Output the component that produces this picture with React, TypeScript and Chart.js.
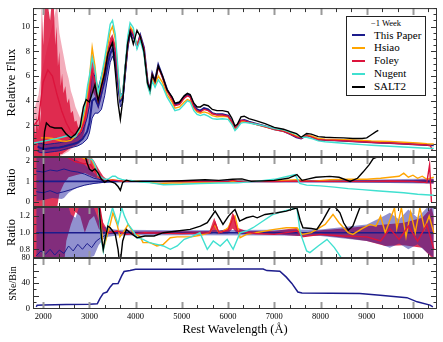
import React, { useEffect, useRef } from 'react';
import { Chart, registerables } from 'chart.js';

Chart.register(...registerables);

type P = [number, number];
type B = [number, number, number];

// ---------- tick labels / categories ----------
const WAVE_TICKS = [2000, 3000, 4000, 5000, 6000, 7000, 8000, 9000, 10000];
const FLUX_TICKS = [0, 2, 4, 6, 8, 10];
const RATIO_TICKS = [0, 1, 2];
const RATIO_ZOOM_TICKS = [0.8, 1.0, 1.2];
const SNE_TICKS = [0, 20, 40, 60, 80];
const SERIES_NAMES = ['This Paper', 'Hsiao', 'Foley', 'Nugent', 'SALT2'];
const LEGEND_TITLE = '\u22121 Week';

// ---------- panel 1: relative flux ----------
const THIS_PAPER_FLUX: P[] = [[1880,0.3],[1950,0.15],[2050,0.1],[2150,0.15],[2250,0.2],[2350,0.22],[2450,0.3],[2550,0.4],[2650,0.5],[2750,0.62],[2850,0.9],[2950,1.5],[3000,2.2],[3060,4.0],[3120,4.2],[3190,3.6],[3260,4.6],[3330,5.6],[3400,7.0],[3450,7.8],[3500,8.2],[3560,7.6],[3620,5.6],[3670,4.0],[3720,4.2],[3780,6.6],[3830,8.5],[3880,9.6],[3950,9.3],[4030,8.4],[4100,9.3],[4180,8.3],[4260,5.5],[4310,4.9],[4360,6.2],[4420,5.6],[4490,6.9],[4580,6.0],[4680,4.9],[4790,4.2],[4850,3.7],[4950,3.8],[5050,4.3],[5120,4.5],[5180,4.4],[5260,3.6],[5330,3.3],[5400,3.2],[5480,3.4],[5570,3.3],[5660,3.0],[5760,2.9],[5880,2.9],[6000,2.8],[6080,2.3],[6150,1.75],[6200,1.9],[6280,2.4],[6350,2.45],[6450,2.3],[6600,2.15],[6800,1.95],[7000,1.7],[7200,1.55],[7350,1.3],[7480,1.05],[7580,0.95],[7700,1.2],[7800,1.1],[7950,0.85],[8100,0.82],[8300,0.8],[8500,0.76],[8700,0.72],[8900,0.68],[9100,0.64],[9300,0.6],[9500,0.58],[9700,0.54],[9900,0.5],[10100,0.46],[10300,0.42],[10450,0.4]];
const THIS_PAPER_FLUX_BAND: B[] = [[1880,-0.1,0.6],[1950,-0.2,0.55],[2050,-0.2,0.45],[2150,-0.15,0.5],[2250,-0.1,0.55],[2350,-0.05,0.6],[2450,0.05,0.7],[2550,0.15,0.8],[2650,0.25,0.9],[2750,0.35,1.1],[2850,0.55,1.5],[2950,0.9,2.6],[3000,1.4,3.6],[3060,2.6,6.3],[3120,3.0,6.0],[3190,3.0,5.0],[3260,3.3,6.0],[3330,4.4,7.0],[3400,6.0,8.0],[3450,7.1,8.6],[3500,7.6,8.8],[3560,7.0,8.2],[3620,5.0,6.2],[3670,3.5,4.5],[3720,3.8,4.6],[3780,6.2,7.0],[3830,8.2,8.8],[3880,9.3,9.9],[3950,9.0,9.6]];
const HSIAO_FLUX: P[] = [[1950,1.0],[2000,1.0],[2100,1.0],[2200,0.95],[2300,0.85],[2400,0.75],[2500,0.72],[2600,0.8],[2700,1.1],[2800,1.6],[2900,3.0],[3000,5.8],[3060,8.3],[3120,6.8],[3190,4.2],[3260,5.5],[3330,7.0],[3400,8.5],[3450,9.6],[3500,10.0],[3560,9.0],[3620,6.2],[3670,4.2],[3720,4.5],[3780,6.8],[3830,8.8],[3880,10.0],[3950,9.6],[4030,8.5],[4100,9.1],[4180,8.0],[4260,5.3],[4310,4.7],[4360,5.8],[4420,5.3],[4490,6.0],[4580,5.5],[4680,4.5],[4790,3.9],[4850,3.4],[4950,3.5],[5050,3.9],[5120,4.1],[5180,4.0],[5260,3.4],[5330,3.1],[5400,3.0],[5480,3.1],[5570,3.0],[5660,2.8],[5760,2.7],[5880,2.75],[6000,2.7],[6080,2.2],[6150,1.7],[6200,1.85],[6280,2.3],[6350,2.35],[6450,2.25],[6600,2.1],[6800,1.9],[7000,1.7],[7200,1.55],[7350,1.35],[7480,1.15],[7580,1.05],[7700,1.2],[7800,1.15],[7950,0.95],[8100,0.9],[8300,0.88],[8500,0.85],[8700,0.82],[8900,0.78],[9100,0.74],[9300,0.72],[9500,0.7],[9700,0.66],[9900,0.62],[10100,0.58],[10300,0.52],[10450,0.5]];
const FOLEY_FLUX: P[] = [[1800,2.0],[1900,2.5],[2000,5.5],[2100,6.5],[2200,6.0],[2300,4.5],[2400,3.2],[2500,2.2],[2600,1.5],[2700,1.2],[2800,1.4],[2900,2.4],[3000,4.6],[3060,6.4],[3120,5.5],[3190,4.0],[3260,5.0],[3330,6.3],[3400,7.8],[3450,8.6],[3500,9.0],[3560,8.2],[3620,5.8],[3670,4.3],[3720,4.4],[3780,6.7],[3830,8.6],[3880,9.8],[3950,9.4],[4030,8.4],[4100,9.2],[4180,8.2],[4260,5.5],[4310,4.8],[4360,6.1],[4420,5.5],[4490,6.7],[4580,5.9],[4680,4.8],[4790,4.1],[4850,3.6],[4950,3.7],[5050,4.2],[5120,4.4],[5180,4.3],[5260,3.5],[5330,3.2],[5400,3.1],[5480,3.3],[5570,3.2],[5660,2.95],[5760,2.85],[5880,2.85],[6000,2.75],[6080,2.3],[6150,1.8],[6200,1.95],[6280,2.4],[6350,2.4],[6450,2.25],[6600,2.1],[6800,1.9],[7000,1.68],[7200,1.52],[7350,1.3],[7480,1.08],[7580,0.97],[7700,1.18],[7800,1.08],[7950,0.85],[8100,0.82],[8300,0.8],[8500,0.76],[8700,0.72],[8900,0.68],[9100,0.64],[9300,0.6],[9500,0.58],[9700,0.54],[9900,0.5],[10100,0.46],[10300,0.42],[10380,0.35],[10420,0.0]];
const FOLEY_FLUX_BAND: B[] = [[1800,-0.6,2.4],[1830,-0.6,1.2],[1860,-0.6,2.8],[1890,-0.6,1.6],[1920,-0.6,3.5],[1950,-0.6,2.2],[1970,-0.6,11.8],[2000,-0.6,8.5],[2030,-0.6,11.8],[2100,-0.6,11.8],[2150,-0.6,10.5],[2180,-0.6,11.8],[2230,-0.6,11.8],[2260,-0.6,8.5],[2290,-0.5,10.0],[2320,-0.5,6.8],[2350,-0.4,8.0],[2380,-0.3,5.2],[2410,-0.3,6.2],[2440,-0.2,4.6],[2480,-0.1,5.2],[2520,0.0,3.8],[2560,0.1,4.2],[2600,0.2,3.0],[2640,0.3,3.2],[2680,0.35,2.3],[2720,0.45,2.4],[2760,0.55,1.8],[2800,0.7,2.1],[2850,1.0,2.8],[2900,1.6,3.6],[2950,2.6,5.0],[3000,3.4,6.0],[3060,4.8,7.8],[3120,4.4,6.6],[3190,3.3,4.8],[3260,4.2,5.8],[3330,5.6,7.0],[3400,7.2,8.4],[3450,8.1,9.1],[3500,8.6,9.4],[3560,7.8,8.6],[3620,5.5,6.1],[3670,4.0,4.6]];
const FOLEY_FLUX_SPREAD: B[] = [[1800,-0.6,3.2],[1900,-0.6,4.5],[1950,-0.6,6.0],[2300,-0.6,11.8],[2350,-0.5,9.5],[2400,-0.4,8.5],[2450,-0.3,7.5],[2500,-0.2,6.5],[2550,-0.1,5.8],[2600,0.1,4.8],[2650,0.2,4.2],[2700,0.3,3.5],[2800,0.6,2.6],[2900,1.4,4.0]];
const NUGENT_FLUX: P[] = [[1800,0.58],[1900,0.65],[2000,0.72],[2100,0.8],[2200,0.88],[2300,0.96],[2400,1.05],[2500,1.15],[2550,1.2],[2600,1.05],[2700,1.1],[2800,1.8],[2900,3.5],[2960,5.2],[3000,6.0],[3060,7.5],[3120,6.5],[3190,4.6],[3260,6.0],[3330,7.4],[3400,9.0],[3450,10.2],[3500,10.5],[3560,9.4],[3620,6.5],[3670,4.3],[3720,4.6],[3780,7.0],[3830,9.2],[3880,10.3],[3950,9.9],[4030,8.2],[4100,8.9],[4180,7.8],[4260,5.2],[4310,4.6],[4360,5.6],[4420,5.1],[4490,5.7],[4580,5.2],[4680,4.3],[4790,3.6],[4850,3.2],[4950,3.3],[5050,3.7],[5120,4.0],[5180,3.9],[5260,3.2],[5330,2.9],[5400,2.8],[5480,2.9],[5570,2.75],[5660,2.55],[5760,2.5],[5880,2.55],[6000,2.5],[6080,2.1],[6150,1.6],[6200,1.8],[6280,2.2],[6350,2.25],[6450,2.2],[6600,2.1],[6800,1.95],[7000,1.75],[7200,1.65],[7350,1.45],[7480,1.3],[7580,1.05],[7700,1.05],[7800,0.95],[7950,0.75],[8100,0.68],[8300,0.62],[8500,0.56],[8700,0.5],[8900,0.45],[9100,0.4],[9300,0.36],[9500,0.32],[9700,0.28],[9900,0.24],[10100,0.2],[10300,0.16],[10450,0.14]];
const SALT2_FLUX: P[] = [[2000,0.0],[2030,1.5],[2070,2.2],[2150,1.9],[2250,1.8],[2400,1.8],[2500,1.3],[2600,1.0],[2700,1.3],[2800,1.9],[2870,3.5],[2930,4.1],[3000,3.9],[3060,4.6],[3120,5.3],[3190,4.0],[3260,5.2],[3330,6.2],[3400,7.8],[3450,8.3],[3500,8.7],[3560,6.4],[3620,3.8],[3670,2.5],[3720,4.0],[3780,6.8],[3830,8.7],[3880,9.6],[3950,8.6],[4030,9.7],[4100,9.2],[4180,8.0],[4260,5.4],[4310,4.9],[4360,6.1],[4420,5.6],[4490,6.8],[4580,6.0],[4680,4.9],[4790,4.3],[4850,3.8],[4950,3.9],[5050,4.4],[5120,4.6],[5180,4.5],[5260,3.8],[5330,3.5],[5400,3.5],[5480,3.7],[5570,3.6],[5660,3.3],[5760,3.2],[5880,3.2],[6000,3.1],[6080,2.6],[6150,1.95],[6200,2.1],[6280,2.7],[6350,2.75],[6450,2.55],[6600,2.4],[6800,2.15],[7000,1.85],[7200,1.7],[7350,1.5],[7480,1.35],[7580,1.05],[7700,1.35],[7800,1.3],[7950,1.1],[8100,1.05],[8300,1.02],[8500,1.0],[8700,0.95],[8900,0.95],[9000,1.0],[9100,1.25],[9200,1.5],[9250,1.6]];

// ---------- panel 2: ratio ----------
const THIS_PAPER_RATIO: P[] = [[1850,1],[10450,1]];
const THIS_PAPER_RATIO_BAND: B[] = [[1850,0.05,2.3],[2000,0.1,2.3],[2200,0.2,2.3],[2400,0.15,2.3],[2450,0.2,2.3],[2550,0.45,2.2],[2650,0.6,2.1],[2750,0.7,2.0],[2900,0.8,1.8],[3000,0.85,1.6],[3100,0.88,1.4],[3200,0.9,1.22],[3300,0.93,1.1],[3400,0.95,1.06],[3600,0.96,1.04],[5000,0.97,1.03],[7000,0.96,1.04],[8500,0.95,1.05],[9500,0.92,1.1],[10450,0.88,1.14]];
const THIS_PAPER_RATIO_SIG_LO: P[] = [[1850,0.5],[2000,0.45],[2150,0.55],[2300,0.42],[2450,0.5],[2600,0.6],[2750,0.72],[2900,0.82],[3000,0.86],[3100,0.9],[3200,0.93],[3350,0.96],[3500,0.98]];
const THIS_PAPER_RATIO_SIG_HI: P[] = [[1850,1.5],[2000,1.45],[2150,1.55],[2300,1.5],[2450,1.6],[2600,1.5],[2750,1.45],[2900,1.35],[3000,1.25],[3100,1.15],[3200,1.1],[3350,1.04],[3500,1.02]];
const FOLEY_RATIO_BAND: B[] = [[1800,-0.3,2.3],[2300,-0.3,2.3],[2350,0.4,2.3],[2450,0.9,2.3],[2550,1.2,2.3],[2700,1.3,2.3],[2900,1.4,2.3],[3000,1.3,2.3],[3100,1.2,2.0],[3200,1.1,1.6],[3300,1.0,1.25],[3400,0.98,1.06],[3600,0.98,1.03],[4000,0.985,1.015],[6000,0.98,1.02],[8000,0.975,1.025],[9000,0.96,1.04],[10000,0.94,1.07],[10450,0.9,1.12]];
const HSIAO_RATIO: P[] = [[2000,2.3],[2700,2.3],[2900,2.1],[3000,2.2],[3060,2.0],[3120,1.7],[3190,1.2],[3260,1.15],[3330,1.1],[3400,1.05],[3500,1.08],[3600,1.05],[3700,1.02],[3800,1.0],[4000,1.02],[4300,0.95],[4500,0.9],[4800,0.92],[5200,0.92],[5600,0.95],[6000,0.98],[6200,1.0],[6500,1.0],[7000,1.02],[7500,1.08],[7800,1.0],[8200,1.08],[8600,1.1],[9000,1.1],[9300,1.15],[9500,1.2],[9700,1.25],[9800,1.4],[9900,1.2],[10000,1.3],[10100,1.15],[10200,1.25],[10300,1.1],[10450,1.2]];
const FOLEY_RATIO: P[] = [[1800,2.3],[2400,2.3],[2500,2.2],[2700,1.95],[2900,1.85],[3000,1.9],[3100,1.55],[3200,1.2],[3300,1.1],[3400,1.05],[3500,1.06],[3700,1.02],[4000,1.0],[5000,0.99],[6000,1.0],[6100,1.05],[6200,1.0],[7000,0.99],[7500,1.02],[8000,1.0],[9000,1.0],[9500,1.02],[10000,1.0],[10300,0.95],[10360,1.8],[10400,0.0]];
const NUGENT_RATIO: P[] = [[1800,2.3],[2800,2.3],[2900,2.2],[3000,2.1],[3060,2.05],[3120,1.8],[3190,1.3],[3260,1.2],[3330,1.1],[3400,1.1],[3500,1.25],[3560,1.25],[3620,1.15],[3700,1.1],[3800,1.05],[3900,1.05],[4100,0.97],[4300,0.94],[4600,0.84],[5000,0.86],[5400,0.9],[5800,0.92],[6200,0.93],[6600,1.0],[7000,1.1],[7300,1.25],[7450,1.33],[7550,0.9],[7700,0.82],[8000,0.78],[8300,0.72],[8600,0.65],[8900,0.6],[9200,0.55],[9500,0.5],[9800,0.45],[10100,0.38],[10450,0.33]];
const SALT2_RATIO: P[] = [[2000,-0.3],[2010,2.3],[2900,2.3],[2950,1.9],[3000,1.6],[3060,1.5],[3120,1.6],[3190,1.4],[3260,1.1],[3330,0.95],[3400,1.05],[3450,1.0],[3560,0.9],[3620,0.75],[3670,0.57],[3720,0.95],[3800,1.05],[3900,1.0],[4100,1.0],[4500,1.0],[5000,1.03],[5500,1.08],[5800,1.05],[6100,1.1],[6300,1.12],[6500,1.0],[7000,1.05],[7300,1.15],[7490,1.33],[7600,1.05],[7900,1.2],[8200,1.24],[8400,1.2],[8640,1.0],[8800,1.15],[8920,1.45],[9050,1.8],[9140,2.1],[9250,2.2]];

// ---------- panel 3: ratio (zoomed) ----------
const THIS_PAPER_ZOOM_BAND: B[] = [[1850,0.6,1.4],[2500,0.6,1.4],[2600,0.62,1.22],[2700,0.64,1.18],[2800,0.66,1.35],[2900,0.68,1.4],[3000,0.7,1.4],[3100,0.72,1.3],[3200,0.85,1.15],[3300,0.92,1.08],[3400,0.95,1.05],[3600,0.965,1.035],[5000,0.97,1.03],[7000,0.965,1.035],[8000,0.96,1.04],[8500,0.93,1.07],[9000,0.9,1.1],[9300,0.86,1.18],[9500,0.82,1.24],[9700,0.87,1.16],[9900,0.8,1.28],[10100,0.86,1.18],[10300,0.76,1.3],[10450,0.7,1.3]];
const THIS_PAPER_ZOOM_SIG_LO: P[] = [[1850,0.72],[1950,0.78],[2050,0.74],[2150,0.8],[2250,0.73],[2350,0.79],[2450,0.75],[2550,0.84],[2650,0.78],[2750,0.86],[2850,0.8],[2950,0.87],[3050,0.82],[3150,0.9],[3250,0.94],[3350,0.97]];
const FOLEY_ZOOM_BAND: B[] = [[1800,0.6,1.4],[2450,0.6,1.4],[2500,0.9,1.4],[2600,1.1,1.4],[2700,1.25,1.4],[2800,1.2,1.4],[2900,1.0,1.4],[3000,1.15,1.4],[3100,1.2,1.4],[3200,1.05,1.3],[3300,0.98,1.12],[3400,0.98,1.03],[3600,0.985,1.015],[4000,0.985,1.015],[5600,0.985,1.02],[5700,1.0,1.18],[5800,0.985,1.02],[6000,0.99,1.05],[6100,1.05,1.25],[6200,0.99,1.06],[6400,0.98,1.02],[7000,0.98,1.02],[7500,0.96,1.06],[7600,0.96,1.0],[8000,0.97,1.03],[8500,0.94,1.05],[9000,0.9,1.08],[9400,0.84,1.1],[9800,0.85,1.12],[10200,0.82,1.18],[10400,0.7,1.3],[10450,0.7,1.2]];
const HSIAO_ZOOM: P[] = [[2900,1.4],[3050,1.35],[3150,1.4],[3200,1.3],[3260,1.05],[3300,0.8],[3350,0.9],[3450,1.1],[3510,1.24],[3600,1.1],[3660,0.95],[3750,1.02],[3840,1.1],[3950,1.0],[4100,0.95],[4160,0.88],[4310,0.88],[4460,0.84],[4600,0.86],[4750,0.94],[4900,0.95],[5200,0.95],[5400,0.97],[5600,1.0],[5700,1.1],[5800,1.0],[5900,1.02],[6000,1.06],[6090,1.16],[6150,1.2],[6260,0.94],[6400,0.98],[6600,1.0],[7000,1.04],[7260,1.06],[7490,1.06],[7600,0.98],[7800,1.0],[8100,1.1],[8270,1.22],[8400,1.12],[8600,1.0],[8700,0.98],[8900,1.05],[9070,1.1],[9200,1.08],[9300,1.2],[9400,1.0],[9500,1.15],[9600,1.3],[9650,1.05],[9750,1.3],[9850,0.95],[9950,1.25],[10050,1.0],[10150,1.3],[10250,1.05],[10350,1.2],[10450,1.0]];
const FOLEY_ZOOM: P[] = [[3200,1.4],[3300,1.05],[3400,1.0],[3600,1.02],[3800,0.98],[4200,1.0],[5000,0.99],[5600,1.0],[5720,1.12],[5800,1.0],[6000,1.03],[6120,1.2],[6200,1.02],[6600,0.99],[7000,0.98],[7500,1.02],[7600,0.95],[8000,0.98],[8500,0.96],[9000,0.95],[9300,0.9],[9500,1.05],[9700,0.92],[9900,1.08],[10100,0.9],[10300,1.1],[10450,0.8]];
const NUGENT_ZOOM: P[] = [[2900,1.4],[3000,1.4],[3150,1.4],[3200,1.3],[3260,0.92],[3300,0.78],[3400,1.1],[3500,1.3],[3560,1.2],[3620,1.1],[3700,1.3],[3760,1.2],[3840,1.1],[3950,1.02],[4030,0.94],[4160,0.92],[4300,0.88],[4460,0.86],[4600,0.84],[4750,0.8],[4900,0.84],[5050,0.92],[5200,0.95],[5390,1.0],[5550,0.8],[5680,0.9],[5830,0.84],[5980,0.92],[6110,0.8],[6260,1.0],[6400,1.02],[6540,1.06],[6700,1.12],[6970,1.22],[7200,1.26],[7490,1.3],[7560,1.0],[7700,0.78],[7770,0.76],[7950,0.84],[8140,0.92],[8300,0.82],[8420,0.72],[8500,0.65]];
const SALT2_ZOOM: P[] = [[2000,0.6],[2010,1.4],[3200,1.4],[3260,0.95],[3300,0.8],[3330,0.9],[3400,1.08],[3450,1.06],[3560,0.98],[3620,0.8],[3660,0.6],[3720,0.9],[3800,1.04],[3880,1.0],[4030,0.94],[4200,0.96],[4400,0.96],[4600,1.0],[4900,1.02],[5180,1.04],[5400,1.08],[5550,1.12],[5720,1.26],[5830,1.16],[5890,1.1],[6010,1.2],[6110,1.26],[6150,1.28],[6250,1.14],[6400,1.18],[6540,1.2],[6630,1.18],[6800,1.22],[7060,1.24],[7260,1.26],[7490,1.3],[7560,1.15],[7620,1.06],[7800,1.05],[7920,1.04],[8050,1.15],[8200,1.3],[8300,1.32],[8420,1.24],[8500,1.12],[8600,1.03],[8700,1.08],[8850,1.3],[8950,1.4]];

// ---------- panel 4: SNe per bin ----------
const SNE_PER_BIN: P[] = [[1850,2.5],[1870,5],[2000,5.5],[2500,6],[3000,6.5],[3170,7.3],[3230,16],[3300,24],[3380,26],[3450,34],[3510,39],[3620,39.5],[3700,52],[3750,58.5],[3880,60],[4000,62],[5000,62],[6000,62.5],[6760,62.5],[6840,60],[7120,59],[7260,49.6],[7380,39.6],[7510,26],[7600,24.5],[8850,23.5],[9290,21],[9870,17],[10090,10.4],[10370,5.2],[10430,2.5]];

// ---------- styles ----------
const NAVY = '#1c1c8c';
const ORANGE = '#ffa500';
const CRIMSON = '#dc143c';
const TURQ = '#40e0d0';
const BLACK = '#000000';
const SERIES_COLORS = [NAVY, ORANGE, CRIMSON, TURQ, BLACK];
const NAVY_FILL = 'rgba(35,35,160,0.5)';
const RED_FILL = 'rgba(220,20,60,0.85)';
const PINK_FILL = 'rgba(220,20,60,0.35)';
const FONT = 'Liberation Serif';

const X_MIN = 1780;
const X_MAX = 10520;

const pts = (a: P[]) => a.map(([x, y]) => ({ x, y }));

function lineDs(data: P[], color: string, width: number, order: number) {
  return { data: pts(data), borderColor: color, borderWidth: width, pointRadius: 0, fill: false, order, tension: 0 };
}

function addBand(list: any[], arr: B[], fillColor: string, edge: string, edgeW: number, order: number) {
  const loIdx = list.length;
  list.push({ data: arr.map(([x, l]) => ({ x, y: l })), borderColor: edge, borderWidth: edgeW, pointRadius: 0, fill: false, order, tension: 0 });
  list.push({ data: arr.map(([x, , h]) => ({ x, y: h })), borderColor: edge, borderWidth: edgeW, pointRadius: 0, fill: { target: loIdx }, backgroundColor: fillColor, order, tension: 0 });
}

const frameTicks = {
  id: 'frameTicks',
  afterDraw(chart: any, _a: any, opts: any) {
    const { ctx, chartArea: a, scales } = chart;
    const xs = scales.x, ys = scales.y;
    ctx.save();
    const xMinor: number[] = [];
    for (let k = 5; k <= 31; k++) { if (k % 3 !== 0) xMinor.push((k * 1000) / 3); }
    const drawX = (vals: number[], len: number, color: string, w: number) => {
      ctx.strokeStyle = color; ctx.lineWidth = w; ctx.beginPath();
      for (const v of vals) {
        const px = Math.round(xs.getPixelForValue(v)) + 0.5;
        if (px < a.left || px > a.right) continue;
        ctx.moveTo(px, a.top); ctx.lineTo(px, a.top + len);
        ctx.moveTo(px, a.bottom); ctx.lineTo(px, a.bottom - len);
      }
      ctx.stroke();
    };
    const drawY = (vals: number[], len: number, color: string, w: number) => {
      ctx.strokeStyle = color; ctx.lineWidth = w; ctx.beginPath();
      for (const v of vals) {
        const py = Math.round(ys.getPixelForValue(v)) + 0.5;
        if (py < a.top || py > a.bottom) continue;
        ctx.moveTo(a.left, py); ctx.lineTo(a.left + len, py);
        ctx.moveTo(a.right, py); ctx.lineTo(a.right - len, py);
      }
      ctx.stroke();
    };
    drawX(xMinor, 4, '#333', 1);
    drawX(WAVE_TICKS, 7, '#9a9a9a', 2);
    const yMinor: number[] = [];
    for (let v = opts.yFrom; v <= opts.yTo + 1e-9; v += opts.yStep) yMinor.push(v);
    drawY(yMinor, 3.5, '#333', 1);
    drawY(opts.yMajor, 6, '#333', 1);
    ctx.strokeStyle = '#333'; ctx.lineWidth = 1;
    ctx.strokeRect(a.left + 0.5, a.top + 0.5, a.right - a.left - 1, a.bottom - a.top - 1);
    ctx.restore();
  },
};

interface PanelCfg {
  datasets: any[];
  yMin: number; yMax: number; yTicks: number[];
  fmt: (v: number) => string;
  yTitle: string; titleSize: number; titlePad: number;
  pad: { top: number; bottom: number };
  showX: boolean;
  minor: { yFrom: number; yTo: number; yStep: number };
}

function makeChart(canvas: HTMLCanvasElement, c: PanelCfg) {
  return new Chart(canvas, {
    type: 'line',
    data: { datasets: c.datasets },
    plugins: [frameTicks],
    options: {
      animation: false,
      responsive: false,
      events: [],
      layout: { padding: { top: c.pad.top, bottom: c.pad.bottom, left: 0, right: 6 } },
      plugins: {
        legend: { display: false },
        tooltip: { enabled: false },
        frameTicks: { yMajor: c.yTicks, ...c.minor },
      } as any,
      scales: {
        x: {
          type: 'linear', min: X_MIN, max: X_MAX, display: c.showX,
          grid: { display: false, drawTicks: false }, border: { display: false },
          afterBuildTicks: (s: any) => { s.ticks = WAVE_TICKS.map((v) => ({ value: v })); },
          afterFit: (s: any) => { s.height = c.showX ? 33 : 0; },
          ticks: { font: { family: FONT, size: 8.5 }, color: '#000', padding: 3, autoSkip: false, maxRotation: 0, callback: (v: any) => String(v) },
          title: { display: true, text: 'Rest Wavelength (\u00c5)', color: '#000', font: { family: FONT, size: 12.5 }, padding: { top: 0, bottom: 4.5 } },
        },
        y: {
          type: 'linear', min: c.yMin, max: c.yMax,
          grid: { display: false, drawTicks: false }, border: { display: false },
          afterBuildTicks: (s: any) => { s.ticks = c.yTicks.map((v) => ({ value: v })); },
          afterFit: (s: any) => { s.width = 33; },
          ticks: { font: { family: FONT, size: 8.5 }, color: '#000', padding: 3, callback: (v: any) => c.fmt(Number(v)) },
          title: { display: true, text: c.yTitle, color: '#000', font: { family: FONT, size: c.titleSize }, padding: { top: c.titlePad, bottom: 0 } },
        },
      },
    } as any,
  });
}

export default function App() {
  const r1 = useRef<HTMLCanvasElement>(null);
  const r2 = useRef<HTMLCanvasElement>(null);
  const r3 = useRef<HTMLCanvasElement>(null);
  const r4 = useRef<HTMLCanvasElement>(null);

  useEffect(() => {
    const d1: any[] = [
      lineDs(SALT2_FLUX, BLACK, 1.4, 1),
      lineDs(NUGENT_FLUX, TURQ, 1.4, 2),
      lineDs(FOLEY_FLUX, CRIMSON, 1.4, 3),
      lineDs(HSIAO_FLUX, ORANGE, 1.4, 4),
      lineDs(THIS_PAPER_FLUX, NAVY, 2, 5),
    ];
    addBand(d1, THIS_PAPER_FLUX_BAND, NAVY_FILL, NAVY, 1, 10);
    addBand(d1, FOLEY_FLUX_BAND, RED_FILL, 'rgba(0,0,0,0)', 0, 12);
    addBand(d1, FOLEY_FLUX_SPREAD, PINK_FILL, 'rgba(0,0,0,0)', 0, 13);

    const d2: any[] = [
      lineDs(SALT2_RATIO, BLACK, 1.4, 1),
      lineDs(NUGENT_RATIO, TURQ, 1.4, 2),
      lineDs(FOLEY_RATIO, CRIMSON, 1.4, 3),
      lineDs(HSIAO_RATIO, ORANGE, 1.4, 4),
      lineDs(THIS_PAPER_RATIO, NAVY, 1.6, 5),
      lineDs(THIS_PAPER_RATIO_SIG_LO, NAVY, 1, 6),
      lineDs(THIS_PAPER_RATIO_SIG_HI, NAVY, 1, 6),
    ];
    addBand(d2, THIS_PAPER_RATIO_BAND, NAVY_FILL, 'rgba(0,0,0,0)', 0, 10);
    addBand(d2, FOLEY_RATIO_BAND, RED_FILL, 'rgba(0,0,0,0)', 0, 12);

    const d3: any[] = [
      lineDs(SALT2_ZOOM, BLACK, 1.4, 1),
      lineDs(NUGENT_ZOOM, TURQ, 1.4, 2),
      lineDs(FOLEY_ZOOM, CRIMSON, 1.4, 3),
      lineDs(HSIAO_ZOOM, ORANGE, 1.4, 4),
      lineDs(THIS_PAPER_RATIO, NAVY, 1.6, 5),
      lineDs(THIS_PAPER_ZOOM_SIG_LO, NAVY, 1, 6),
    ];
    addBand(d3, THIS_PAPER_ZOOM_BAND, NAVY_FILL, 'rgba(0,0,0,0)', 0, 10);
    addBand(d3, FOLEY_ZOOM_BAND, RED_FILL, 'rgba(0,0,0,0)', 0, 12);

    const d4: any[] = [lineDs(SNE_PER_BIN, NAVY, 1.5, 1)];

    const charts = [
      makeChart(r1.current!, {
        datasets: d1, yMin: -0.55, yMax: 11.5, yTicks: FLUX_TICKS, fmt: (v) => String(v),
        yTitle: 'Relative Flux', titleSize: 12.5, titlePad: 4.5, pad: { top: 5, bottom: 185 }, showX: false,
        minor: { yFrom: -0.5, yTo: 11.5, yStep: 0.5 },
      }),
      makeChart(r2.current!, {
        datasets: d2, yMin: -0.24, yMax: 2.18, yTicks: RATIO_TICKS, fmt: (v) => String(v),
        yTitle: 'Ratio', titleSize: 12.5, titlePad: 4.5, pad: { top: 157, bottom: 135 }, showX: false,
        minor: { yFrom: 0, yTo: 2.1, yStep: 1 / 3 },
      }),
      makeChart(r3.current!, {
        datasets: d3, yMin: 0.695, yMax: 1.31, yTicks: RATIO_ZOOM_TICKS, fmt: (v) => v.toFixed(1),
        yTitle: 'Ratio', titleSize: 12.5, titlePad: 4.5, pad: { top: 207, bottom: 84 }, showX: false,
        minor: { yFrom: 0.7, yTo: 1.3, yStep: 0.1 },
      }),
      makeChart(r4.current!, {
        datasets: d4, yMin: -1, yMax: 80, yTicks: SNE_TICKS, fmt: (v) => String(v),
        yTitle: 'SNe/Bin', titleSize: 10, titlePad: 7, pad: { top: 258, bottom: 0 }, showX: true,
        minor: { yFrom: 0, yTo: 80, yStep: 10 },
      }),
    ];
    return () => charts.forEach((ch) => ch.destroy());
  }, []);

  const cv: React.CSSProperties = { position: 'absolute', left: 0, top: 0, width: 443, height: 342 };
  return (
    <div style={{ position: 'fixed', left: 0, top: 0, width: 443, height: 342, background: '#fff', overflow: 'hidden' }}>
      <canvas ref={r1} width={443} height={342} style={cv} />
      <canvas ref={r2} width={443} height={342} style={cv} />
      <canvas ref={r3} width={443} height={342} style={cv} />
      <canvas ref={r4} width={443} height={342} style={cv} />
      <div style={{ position: 'absolute', left: 346, top: 16, width: 80, height: 80, border: '1px solid #222', background: '#fff', boxSizing: 'border-box', fontFamily: FONT, color: '#000', fontWeight: 400 }}>
        <div style={{ position: 'absolute', left: 0, width: '100%', top: 1, textAlign: 'center', fontSize: 8.5, lineHeight: '10px' }}>{LEGEND_TITLE}</div>
        {SERIES_NAMES.map((n, i) => (
          <React.Fragment key={n}>
            <div style={{ position: 'absolute', left: 5, top: 17 + i * 12.9, width: 13, height: 2, background: SERIES_COLORS[i] }} />
            <div style={{ position: 'absolute', left: 27, top: 11.5 + i * 12.9, fontSize: 11, lineHeight: '13px', whiteSpace: 'nowrap' }}>{n}</div>
          </React.Fragment>
        ))}
      </div>
    </div>
  );
}
